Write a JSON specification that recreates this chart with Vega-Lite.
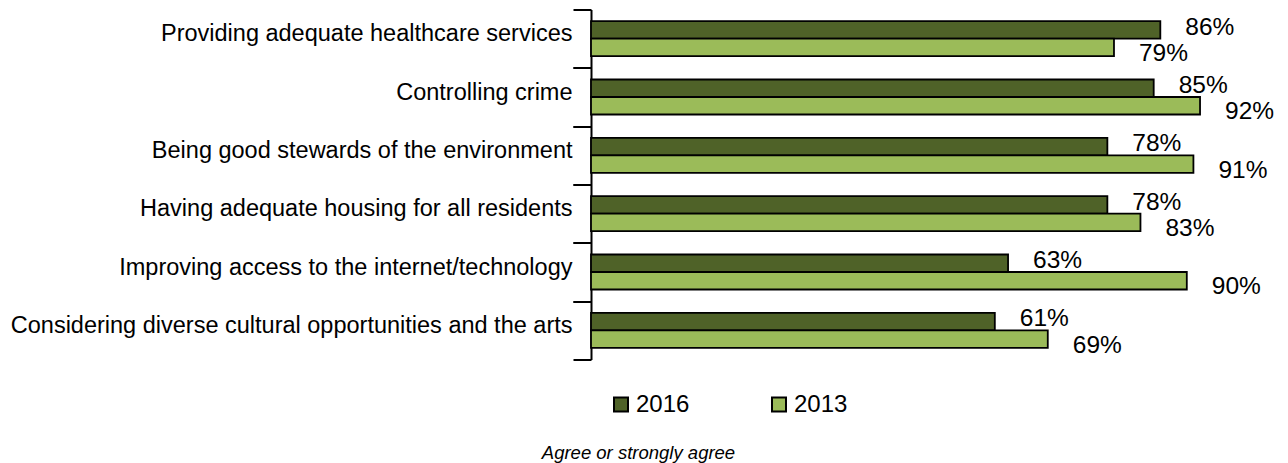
{
  "$schema": "https://vega.github.io/schema/vega-lite/v6.json",
  "width": 662,
  "height": 350,
  "autosize": {"type": "none"},
  "padding": {"left": 591, "top": 9.5, "right": 35, "bottom": 103.5},
  "background": "white",
  "config": {
    "view": {"stroke": null},
    "font": "Liberation Sans"
  },
  "data": {
    "values": [
      {"item": "Providing adequate healthcare services", "year": "2016", "pct": 0.86},
      {"item": "Providing adequate healthcare services", "year": "2013", "pct": 0.79},
      {"item": "Controlling crime", "year": "2016", "pct": 0.85},
      {"item": "Controlling crime", "year": "2013", "pct": 0.92},
      {"item": "Being good stewards of the environment", "year": "2016", "pct": 0.78},
      {"item": "Being good stewards of the environment", "year": "2013", "pct": 0.91},
      {"item": "Having adequate housing for all residents", "year": "2016", "pct": 0.78},
      {"item": "Having adequate housing for all residents", "year": "2013", "pct": 0.83},
      {"item": "Improving access to the internet/technology", "year": "2016", "pct": 0.63},
      {"item": "Improving access to the internet/technology", "year": "2013", "pct": 0.90},
      {"item": "Considering diverse cultural opportunities and the arts", "year": "2016", "pct": 0.61},
      {"item": "Considering diverse cultural opportunities and the arts", "year": "2013", "pct": 0.69}
    ]
  },
  "encoding": {
    "x": {
      "field": "pct",
      "type": "quantitative",
      "scale": {"domain": [0, 1]},
      "axis": {
        "domain": false,
        "ticks": false,
        "labels": false,
        "grid": false,
        "title": "Agree or strongly agree",
        "titleFontSize": 18.5,
        "titleFontStyle": "italic",
        "titleFontWeight": "normal",
        "titleColor": "black",
        "titleX": 47,
        "titleY": 99,
        "titleAlign": "center",
        "titleBaseline": "alphabetic"
      }
    }
  },
  "layer": [
    {
      "mark": {"type": "bar", "stroke": "black", "strokeWidth": 1.8},
      "encoding": {
        "y": {
          "field": "item",
          "type": "nominal",
          "sort": null,
          "title": null,
          "scale": {"paddingInner": 0.4, "paddingOuter": 0.2},
          "axis": {
            "orient": "left",
            "domainColor": "black",
            "domainWidth": 2,
            "tickColor": "black",
            "tickWidth": 2,
            "tickSize": 18,
            "tickOffset": -29.17,
            "labelOffset": 24.17,
            "labelPadding": 1,
            "labelFontSize": 23.5,
            "labelColor": "black",
            "labelLimit": 600,
            "grid": false
          }
        },
        "yOffset": {"field": "year", "type": "nominal", "sort": ["2016", "2013"]},
        "color": {
          "field": "year",
          "type": "nominal",
          "sort": ["2016", "2013"],
          "scale": {"domain": ["2016", "2013"], "range": ["#4f6228", "#9bbb59"]},
          "legend": {
            "title": null,
            "orient": "none",
            "direction": "horizontal",
            "legendX": 18,
            "legendY": 383,
            "symbolType": "square",
            "symbolSize": 196,
            "symbolStrokeColor": "black",
            "symbolStrokeWidth": 2,
            "symbolOpacity": 1,
            "labelFontSize": 24,
            "labelColor": "black",
            "labelOffset": 3,
            "columnPadding": 77
          }
        }
      }
    },
    {
      "mark": {"type": "text", "align": "left", "baseline": "middle", "dx": 25, "dy": 2.3, "fontSize": 24.5, "color": "black"},
      "encoding": {
        "y": {
          "field": "item",
          "type": "nominal",
          "sort": null,
          "title": null,
          "axis": {
            "orient": "left",
            "domain": false,
            "labels": false,
            "tickColor": "black",
            "tickWidth": 2,
            "tickSize": 18,
            "tickOffset": 29.17,
            "grid": false
          }
        },
        "yOffset": {
          "field": "year",
          "type": "nominal",
          "sort": ["2016", "2013"],
          "scale": {"type": "point", "padding": 0.164}
        },
        "text": {"field": "pct", "type": "quantitative", "format": ".0%"},
        "color": {"value": "black"}
      }
    }
  ],
  "resolve": {"axis": {"y": "independent"}, "scale": {"yOffset": "independent"}}
}
